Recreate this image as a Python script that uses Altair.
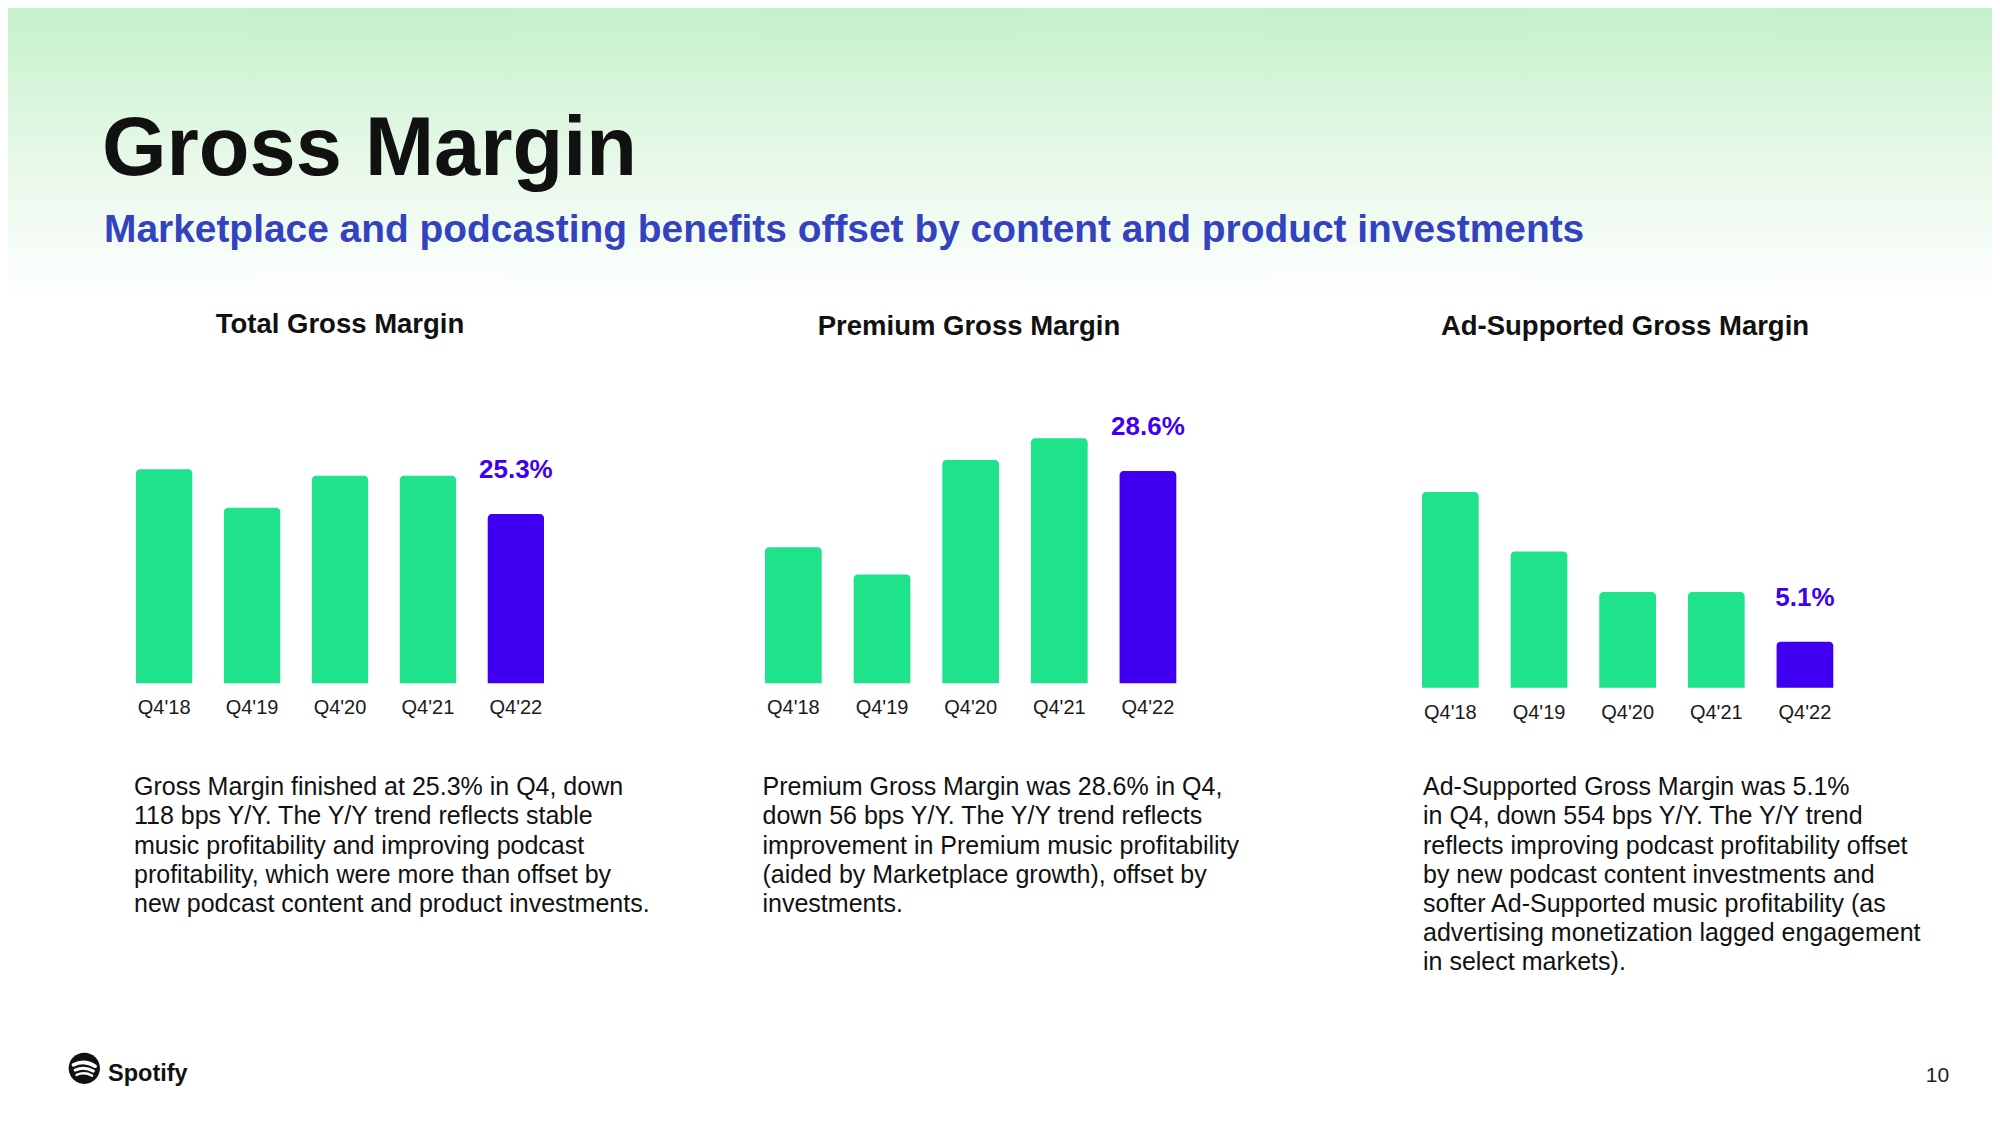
import altair as alt
import pandas as pd

# ---------------- data ----------------
quarters = ["Q4'18", "Q4'19", "Q4'20", "Q4'21", "Q4'22"]
total_margin = [26.7, 25.5, 26.5, 26.5, 25.3]
premium_margin = [27.2, 26.7, 28.8, 29.2, 28.6]
ad_margin = [21.7, 15.1, 10.6, 10.6, 5.1]
value_labels = ["25.3%", "28.6%", "5.1%"]
panel_titles = ["Total Gross Margin", "Premium Gross Margin", "Ad-Supported Gross Margin"]

main_title = "Gross Margin"
subtitle = "Marketplace and podcasting benefits offset by content and product investments"
paragraphs = [
    "Gross Margin finished at 25.3% in Q4, down\n118 bps Y/Y. The Y/Y trend reflects stable\nmusic profitability and improving podcast\nprofitability, which were more than offset by\nnew podcast content and product investments.",
    "Premium Gross Margin was 28.6% in Q4,\ndown 56 bps Y/Y. The Y/Y trend reflects\nimprovement in Premium music profitability\n(aided by Marketplace growth), offset by\ninvestments.",
    "Ad-Supported Gross Margin was 5.1%\nin Q4, down 554 bps Y/Y. The Y/Y trend\nreflects improving podcast profitability offset\nby new podcast content investments and\nsofter Ad-Supported music profitability (as\nadvertising monetization lagged engagement\nin select markets).",
]
brand = "Spotify"
page_number = "10"
latest = "Q4'22"

# ---------------- style / layout ----------------
FONT = "Liberation Sans"
GREEN = "#1ee38b"
PURPLE = "#3f00f2"
BLUE = "#3343c0"
INK = "#111111"
W, H = 1984, 1105
PANEL_X0 = [0, 620, 1280]
PANEL_W = [620, 660, 704]


def text_layer(txt, x, y, size, weight="normal", color=INK, align="left",
               baseline="alphabetic", **kw):
    return alt.Chart(pd.DataFrame({"t": [txt]})).mark_text(
        font=FONT, fontSize=size, fontWeight=weight, color=color,
        align=align, baseline=baseline, **kw
    ).encode(x=alt.value(x), y=alt.value(y), text="t:N")


def panel(values, label, title, paragraph, x0, xrange, ydomain, yrange,
          title_xy, para_x):
    df = pd.DataFrame({"quarter": quarters, "value": values,
                       "base": [ydomain[0]] * len(quarters),
                       "is_latest": [q == latest for q in quarters]})
    x = alt.X("quarter:N", sort=quarters,
              scale=alt.Scale(domain=quarters,
                              range=[xrange[0] - x0, xrange[1] - x0],
                              paddingInner=0.36, paddingOuter=0),
              axis=None)
    yscale = alt.Scale(domain=ydomain, range=yrange, zero=False, nice=False)
    y = alt.Y("value:Q", scale=yscale, axis=None)
    ybase = alt.Y("base:Q", scale=yscale, axis=None)
    base = alt.Chart(df)
    older = base.transform_filter("!datum.is_latest")
    last = base.transform_filter("datum.is_latest")
    bars_old = older.mark_bar(cornerRadiusTopLeft=4, cornerRadiusTopRight=4,
                              color=GREEN).encode(x=x, y=y, y2="base:Q")
    bars_new = last.mark_bar(cornerRadiusTopLeft=4, cornerRadiusTopRight=4,
                             color=PURPLE).encode(x=x, y=y, y2="base:Q")
    ticks = base.mark_text(font=FONT, fontSize=20, color="#1a1a1a", dy=25,
                           baseline="middle").encode(
        x=x, y=ybase, text="quarter:N"
    )
    lab = last.mark_text(font=FONT, fontSize=26, fontWeight="bold", color=PURPLE,
                         dy=-44, baseline="middle", text=label).encode(
        x=x, y=y
    )
    ttl = text_layer(title, title_xy[0] - x0, title_xy[1], 27.5, weight="bold",
                     align="center", baseline="middle")
    para = text_layer(paragraph, para_x - x0, 787.3, 25, color=INK,
                      lineBreak="\n", lineHeight=29.2)
    return [bars_old, bars_new, ticks, lab, ttl, para]


# background gradient (drawn in first panel, spans the whole page)
bg = alt.Chart(pd.DataFrame({"k": [0]})).mark_rect(
    color=alt.LinearGradient(
        gradient="linear",
        stops=[alt.GradientStop(color="#c4f1ca", offset=0),
               alt.GradientStop(color="#e6f8e8", offset=0.5),
               alt.GradientStop(color="#ffffff", offset=1)],
        x1=0, x2=0, y1=0, y2=1)
).encode(x=alt.value(0), x2=alt.value(W), y=alt.value(0), y2=alt.value(295))

title = text_layer(main_title, 94, 167, 83, weight="bold", color=INK)
sub = text_layer(subtitle, 96, 234, 38.9, weight="bold", color=BLUE)

# Spotify logo
logo_circle = alt.Chart(pd.DataFrame({"k": [0]})).mark_circle(
    color="#111111", opacity=1, size=980
).encode(x=alt.value(76.3), y=alt.value(1060.3))
wave_paths = [
    ("M -0.62 -0.2 Q 0 -0.52 0.62 -0.12", 3.6),
    ("M -0.52 0.1 Q 0 -0.14 0.52 0.16", 3.0),
    ("M -0.44 0.38 Q 0 0.18 0.44 0.42", 2.5),
]
waves = [
    alt.Chart(pd.DataFrame({"k": [0]})).mark_point(
        shape=pth, filled=False, stroke="white", strokeWidth=sw,
        strokeCap="round", size=1225, opacity=1
    ).encode(x=alt.value(76.3), y=alt.value(1060.3))
    for pth, sw in wave_paths
]
logo_text = text_layer(brand, 100, 1072.5, 23.5, weight="bold", color=INK)

p1_layers = panel(total_margin, value_labels[0], panel_titles[0], paragraphs[0],
                  PANEL_X0[0], [128, 536], [20, 26.7], [675.3, 461.3],
                  (332, 317), 126)
p2_layers = panel(premium_margin, value_labels[1], panel_titles[1], paragraphs[1],
                  PANEL_X0[1], [757, 1168.3], [24.7, 29.2], [675.3, 430.3],
                  (961, 319), 754.5)
p3_layers = panel(ad_margin, value_labels[2], panel_titles[2], paragraphs[2],
                  PANEL_X0[2], [1414, 1825.3], [0, 21.7], [679.7, 484.0],
                  (1617, 319), 1415)

page = text_layer(page_number, 1929.5 - PANEL_X0[2], 1068, 21, color="#222222",
                  align="center", baseline="middle")

panel1 = alt.layer(bg, title, sub, logo_circle, *waves, logo_text,
                   *p1_layers).properties(width=PANEL_W[0], height=H)
panel2 = alt.layer(*p2_layers).properties(width=PANEL_W[1], height=H)
panel3 = alt.layer(*p3_layers, page).properties(width=PANEL_W[2], height=H)

chart = alt.hconcat(panel1, panel2, panel3, spacing=0, bounds="flush").properties(
    padding=0, background="white"
).configure_view(stroke=None)

chart.save("out.html", embed_options={"renderer": "svg", "actions": False})
